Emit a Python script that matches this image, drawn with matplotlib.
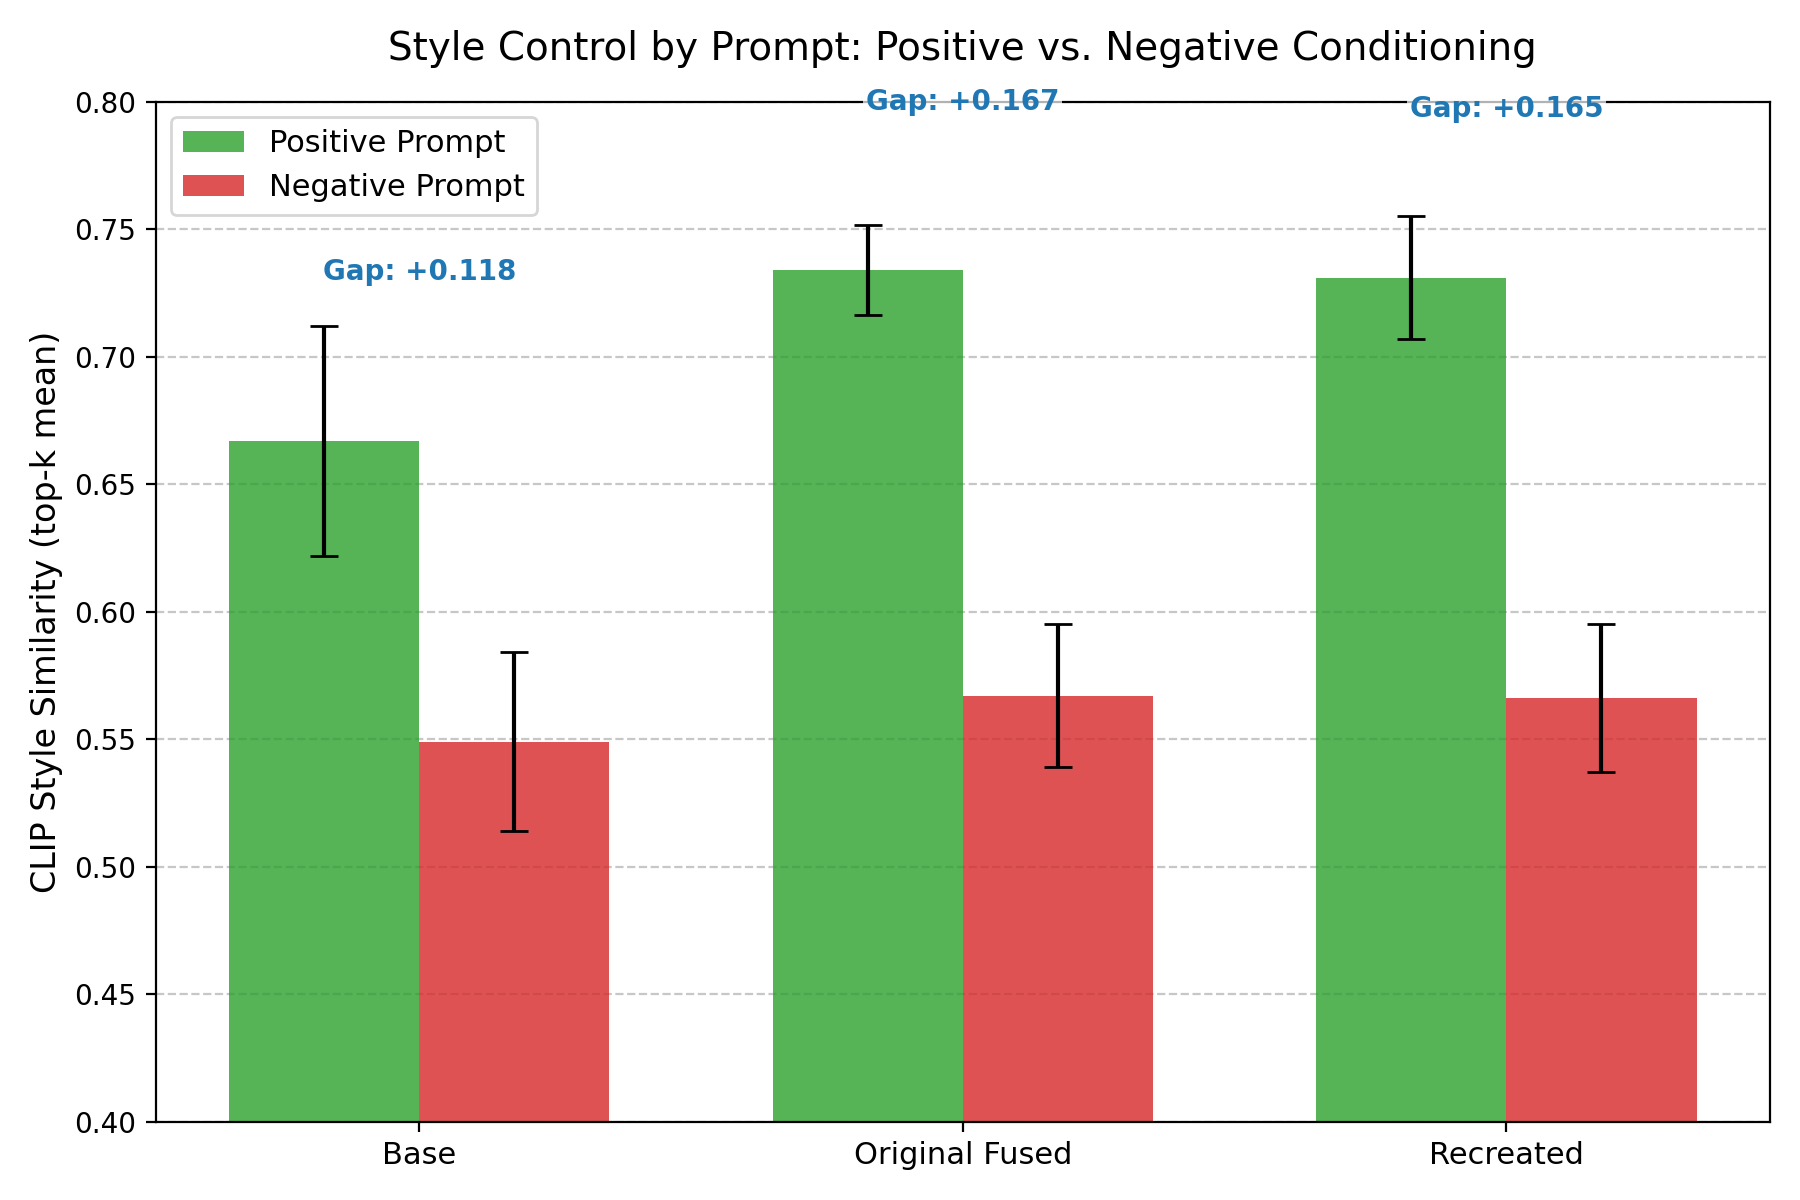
import numpy as np
import matplotlib
matplotlib.use("Agg")
import matplotlib.pyplot as plt

models = ["Base", "Original Fused", "Recreated"]
pos_mean = [0.667, 0.734, 0.731]
pos_err = [0.045, 0.0175, 0.024]
neg_mean = [0.549, 0.567, 0.566]
neg_err = [0.035, 0.028, 0.029]
gap_text_y = [0.733, 0.800, 0.797]

x = np.arange(len(models))
width = 0.35

fig, ax = plt.subplots(figsize=(9, 6), dpi=200)

ax.bar(x - width / 2, pos_mean, width, yerr=pos_err, capsize=5,
       color="tab:green", alpha=0.8, label="Positive Prompt",
       error_kw={"elinewidth": 1.5, "ecolor": "black"})
ax.bar(x + width / 2, neg_mean, width, yerr=neg_err, capsize=5,
       color="tab:red", alpha=0.8, label="Negative Prompt",
       error_kw={"elinewidth": 1.5, "ecolor": "black"})

for i in range(len(models)):
    gap = pos_mean[i] - neg_mean[i]
    ax.text(x[i], gap_text_y[i], f"Gap: +{gap:.3f}", ha="center", va="center",
            fontsize=10, fontweight="bold", color="tab:blue", zorder=5,
            bbox=dict(boxstyle="square,pad=0.1", facecolor="white",
                      edgecolor="none", alpha=0.7))

ax.set_ylim(0.40, 0.80)
ax.set_xticks(x)
ax.set_xticklabels(models, fontsize=11)
ax.tick_params(axis="y", labelsize=10)
ax.set_ylabel("CLIP Style Similarity (top-k mean)", fontsize=12)
ax.set_title("Style Control by Prompt: Positive vs. Negative Conditioning",
             fontsize=14, pad=15)
ax.legend(loc="upper left", fontsize=11)
ax.yaxis.grid(True, linestyle="--", alpha=0.7)
ax.set_axisbelow(True)

plt.tight_layout()
plt.savefig("out.png", dpi=200)
